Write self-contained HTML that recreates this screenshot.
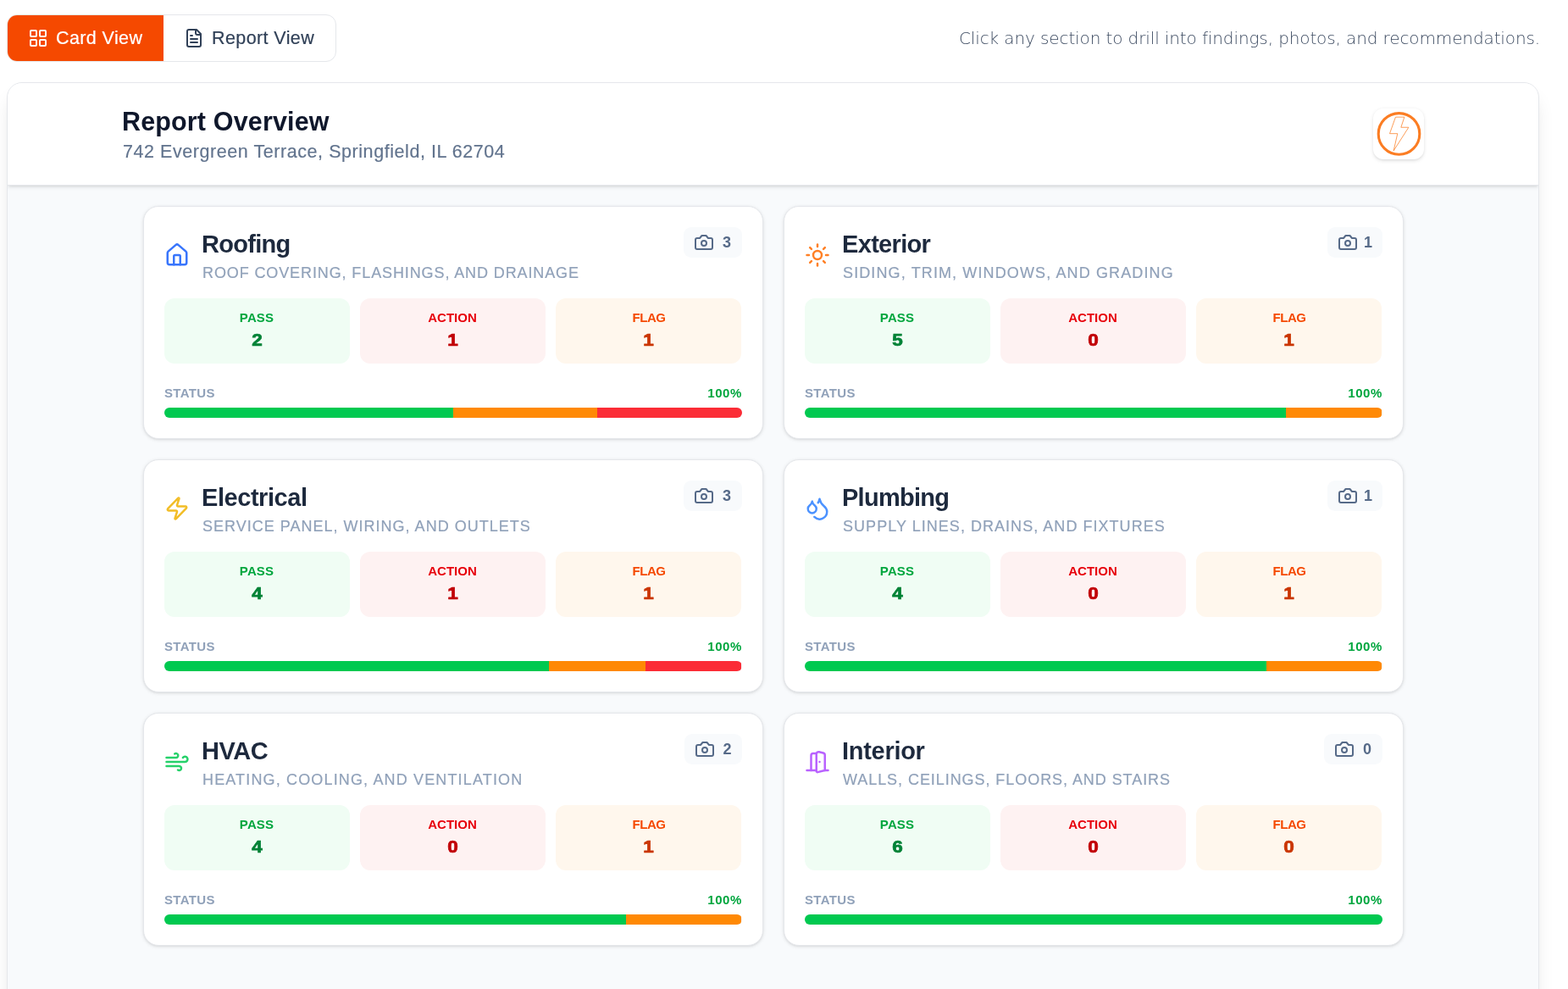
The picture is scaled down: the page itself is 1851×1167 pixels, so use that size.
<!DOCTYPE html>
<html lang="en">
<head>
<meta charset="utf-8">
<title>Report Overview</title>
<style>
*{box-sizing:border-box;margin:0;padding:0}
html,body{width:1851px;height:1167px;overflow:hidden;background:#fff}
body{position:relative;font-family:"Liberation Sans",Arial,sans-serif;color:#0f172b}
svg{display:block;flex:none}
.toggle{position:absolute;left:8px;top:17px;height:56px;width:389px;border:1px solid #e5e7eb;border-radius:12px;overflow:hidden;display:flex;background:#fff}
.tbtn{height:54px;display:flex;align-items:center;font-size:21.5px;font-weight:400;letter-spacing:.4px;-webkit-text-stroke:.2px currentColor}
.tbtn svg{margin-right:9px}
.tbtn span{position:relative;top:0}
.tbtn.on{width:184px;background:#f54900;color:#fff;padding-left:24px}
.tbtn.off{color:#314158;padding-left:24px}
.hint{position:absolute;left:1132px;top:30px;height:30px;line-height:30px;font-family:"DejaVu Sans","Liberation Sans",sans-serif;font-weight:200;font-size:20px;color:#3f4d63;white-space:nowrap;letter-spacing:-.114px}
.panel{position:absolute;left:8px;top:97px;width:1809px;height:1100px;border:1px solid #e5e7eb;border-radius:18px;background:#f8fafc;box-shadow:0 15px 22px -4px rgba(0,0,0,.10),0 6px 9px -6px rgba(0,0,0,.10);overflow:hidden}
.phead{position:absolute;left:0;top:0;width:100%;height:121px;background:#fff;border-bottom:1px solid #e5e7eb;box-shadow:0 1.5px 4.5px rgba(0,0,0,.10),0 1.5px 3px -1.5px rgba(0,0,0,.10)}
.phead h1{position:absolute;left:135px;top:24px;letter-spacing:.15px;font-size:30.5px;line-height:42px;font-weight:700;color:#0f172b;white-space:nowrap}
.phead .addr{position:absolute;left:136px;top:65.5px;letter-spacing:.56px;-webkit-text-stroke:.2px currentColor;font-size:21.5px;line-height:30px;color:#62748e;white-space:nowrap}
.logo{position:absolute;left:1612px;top:30px;width:60px;height:60px;border-radius:12px;background:#fff;box-shadow:0 1.5px 4.5px rgba(0,0,0,.10),0 1.5px 3px -1.5px rgba(0,0,0,.10)}
.card{position:absolute;width:732px;height:275px;background:#fff;border:1px solid #e5e7eb;border-radius:18px;box-shadow:0 1px 4px rgba(0,0,0,.10),0 1px 3px -1px rgba(0,0,0,.10)}
.card>*{position:absolute}
.card .ic{left:24px;top:42px}
.card h2{left:68px;top:23px;font-size:29px;line-height:42px;font-weight:700;color:#1d293d;white-space:nowrap}
.card .sub{left:69px;top:66px;font-size:18px;-webkit-text-stroke:.2px currentColor;line-height:25px;color:#90a1b9;white-space:nowrap;letter-spacing:1px}
.badge{right:24px;top:24px;height:36px;border-radius:9px;background:#f8fafc;font-size:18px;font-weight:700;color:#566a88}
.badge svg{position:absolute;left:12px;top:6px}
.badge span{position:absolute;top:6px;line-height:24px;white-space:nowrap}
.tile{top:108px;width:219px;height:77px;border-radius:12px;text-align:center}
.tile b{display:block;margin-top:10.5px;position:relative;left:-.5px;font-size:15px;line-height:23px;font-weight:700}
.tile em{display:block;font-style:normal;font-size:20.5px;line-height:30px;font-weight:700;margin-top:.5px;-webkit-text-stroke:.7px currentColor;transform:scaleX(1.1)}
.tp{left:24px;background:#f0fdf4}.tp b{color:#00a63e;letter-spacing:.13px}.tp em{color:#008236}
.ta{left:255px;background:#fef2f2}.ta b{color:#e7000b}.ta em{color:#c10007}
.tf{left:486px;width:219px;background:#fff7ed}.tf b{color:#f54900;letter-spacing:-.45px;left:.5px}.tf em{color:#ca3500}
.st{left:24px;top:208.5px;letter-spacing:.35px;font-size:15px;line-height:22px;font-weight:700;color:#90a1b9}
.pct{right:24px;top:208.5px;letter-spacing:.6px;font-size:15px;line-height:22px;font-weight:700;color:#00a63e}
.bar{left:24px;top:237px;width:682px;height:12px;border-radius:6px;background:#f1f5f9;overflow:hidden}
.bar i{position:absolute;top:0;height:12px;left:0}
.bar .g{background:#00c950}.bar .o{background:#ff8904}.bar .r{background:#fb2c36}
</style>
</head>
<body>
<div class="toggle"><div class="tbtn on"><svg class="" width="24" height="24" viewBox="0 0 24 24" fill="none" stroke="#fff" stroke-width="2" stroke-linecap="round" stroke-linejoin="round"><rect width="7" height="7" x="3" y="3" rx="1"/><rect width="7" height="7" x="14" y="3" rx="1"/><rect width="7" height="7" x="14" y="14" rx="1"/><rect width="7" height="7" x="3" y="14" rx="1"/></svg><span>Card View</span></div><div class="tbtn off"><svg class="" width="24" height="24" viewBox="0 0 24 24" fill="none" stroke="#314158" stroke-width="2" stroke-linecap="round" stroke-linejoin="round"><path d="M15 2H6a2 2 0 0 0-2 2v16a2 2 0 0 0 2 2h12a2 2 0 0 0 2-2V7Z"/><path d="M14 2v4a2 2 0 0 0 2 2h4"/><path d="M10 9H8"/><path d="M16 13H8"/><path d="M16 17H8"/></svg><span>Report View</span></div></div>
<div class="hint">Click any section to drill into findings, photos, and recommendations.</div>
<div class="panel">
<div class="phead">
<h1>Report Overview</h1>
<p class="addr">742 Evergreen Terrace, Springfield, IL 62704</p>
<div class="logo"><svg width="60" height="60" viewBox="0 0 60 60" fill="none" stroke="#fb7d23"><circle cx="30.5" cy="29.9" r="24.3" stroke-width="3.1"/><path d="M26.45 10.15H36.87L32.85 22.26H41.88L24.14 49.86L28.77 29.66H19.51Z" stroke-width="0.75" stroke-linejoin="miter"/></svg></div>
</div>
<div class="card" id="c1" style="left:160px;top:145px"><svg class="ic" width="30" height="30" viewBox="0 0 24 24" fill="none" stroke="#3875fc" stroke-width="2" stroke-linecap="round" stroke-linejoin="round"><path d="M15 21v-8a1 1 0 0 0-1-1h-4a1 1 0 0 0-1 1v8"/><path d="M3 10a2 2 0 0 1 .709-1.528l7-5.999a2 2 0 0 1 2.582 0l7 5.999A2 2 0 0 1 21 10v9a2 2 0 0 1-2 2H5a2 2 0 0 1-2-2z"/></svg><h2 style="letter-spacing:-0.71px">Roofing</h2><div class="sub" style="letter-spacing:0.89px">ROOF COVERING, FLASHINGS, AND DRAINAGE</div><div class="badge" style="width:69px"><svg class="" width="24" height="24" viewBox="0 0 24 24" fill="none" stroke="#566a88" stroke-width="2" stroke-linecap="round" stroke-linejoin="round"><path d="M14.5 4h-5L7 7H4a2 2 0 0 0-2 2v9a2 2 0 0 0 2 2h16a2 2 0 0 0 2-2V9a2 2 0 0 0-2-2h-3l-2.5-3z"/><circle cx="12" cy="13" r="3"/></svg><span style="right:13px">3</span></div><div class="tile tp"><b>PASS</b><em>2</em></div><div class="tile ta"><b>ACTION</b><em>1</em></div><div class="tile tf"><b>FLAG</b><em>1</em></div><div class="st">STATUS</div><div class="pct">100%</div><div class="bar"><i class="g" style="width:341px"></i><i class="o" style="left:341px;width:170px"></i><i class="r" style="left:511px;width:171px"></i></div></div>
<div class="card" id="c2" style="left:916px;top:145px"><svg class="ic" width="30" height="30" viewBox="0 0 24 24" fill="none" stroke="#ff8026" stroke-width="2" stroke-linecap="round" stroke-linejoin="round"><circle cx="12" cy="12" r="4"/><path d="M12 2v2"/><path d="M12 20v2"/><path d="m4.93 4.93 1.41 1.41"/><path d="m17.66 17.66 1.41 1.41"/><path d="M2 12h2"/><path d="M20 12h2"/><path d="m6.34 17.66-1.41 1.41"/><path d="m19.07 4.93-1.41 1.41"/></svg><h2 style="letter-spacing:-0.67px">Exterior</h2><div class="sub" style="letter-spacing:1.12px">SIDING, TRIM, WINDOWS, AND GRADING</div><div class="badge" style="width:65px"><svg class="" width="24" height="24" viewBox="0 0 24 24" fill="none" stroke="#566a88" stroke-width="2" stroke-linecap="round" stroke-linejoin="round"><path d="M14.5 4h-5L7 7H4a2 2 0 0 0-2 2v9a2 2 0 0 0 2 2h16a2 2 0 0 0 2-2V9a2 2 0 0 0-2-2h-3l-2.5-3z"/><circle cx="12" cy="13" r="3"/></svg><span style="right:12px">1</span></div><div class="tile tp"><b>PASS</b><em>5</em></div><div class="tile ta"><b>ACTION</b><em>0</em></div><div class="tile tf"><b>FLAG</b><em>1</em></div><div class="st">STATUS</div><div class="pct">100%</div><div class="bar"><i class="g" style="width:568px"></i><i class="o" style="left:568px;width:113px"></i></div></div>
<div class="card" id="c3" style="left:160px;top:444px"><svg class="ic" width="30" height="30" viewBox="0 0 24 24" fill="none" stroke="#f2bd26" stroke-width="2" stroke-linecap="round" stroke-linejoin="round"><path d="M4 14a1 1 0 0 1-.78-1.63l9.9-10.2a.5.5 0 0 1 .86.46l-1.92 6.02A1 1 0 0 0 13 10h7a1 1 0 0 1 .78 1.63l-9.9 10.2a.5.5 0 0 1-.86-.46l1.92-6.02A1 1 0 0 0 11 14z"/></svg><h2 style="letter-spacing:-0.44px">Electrical</h2><div class="sub" style="letter-spacing:1.01px">SERVICE PANEL, WIRING, AND OUTLETS</div><div class="badge" style="width:69px"><svg class="" width="24" height="24" viewBox="0 0 24 24" fill="none" stroke="#566a88" stroke-width="2" stroke-linecap="round" stroke-linejoin="round"><path d="M14.5 4h-5L7 7H4a2 2 0 0 0-2 2v9a2 2 0 0 0 2 2h16a2 2 0 0 0 2-2V9a2 2 0 0 0-2-2h-3l-2.5-3z"/><circle cx="12" cy="13" r="3"/></svg><span style="right:13px">3</span></div><div class="tile tp"><b>PASS</b><em>4</em></div><div class="tile ta"><b>ACTION</b><em>1</em></div><div class="tile tf"><b>FLAG</b><em>1</em></div><div class="st">STATUS</div><div class="pct">100%</div><div class="bar"><i class="g" style="width:454px"></i><i class="o" style="left:454px;width:114px"></i><i class="r" style="left:568px;width:113px"></i></div></div>
<div class="card" id="c4" style="left:916px;top:444px"><svg class="ic" width="30" height="30" viewBox="0 0 24 24" fill="none" stroke="#4b92ff" stroke-width="2" stroke-linecap="round" stroke-linejoin="round"><path d="M7 16.3c2.2 0 4-1.83 4-4.05 0-1.16-.57-2.26-1.71-3.19S7.29 6.75 7 5.3c-.29 1.45-1.14 2.84-2.29 3.76S3 11.1 3 12.25c0 2.22 1.8 4.05 4 4.05z"/><path d="M12.56 6.6A10.97 10.97 0 0 0 14 3.02c.5 2.5 2 4.9 4 6.5s3 3.5 3 5.5a6.98 6.98 0 0 1-11.91 4.97"/></svg><h2 style="letter-spacing:-0.72px">Plumbing</h2><div class="sub" style="letter-spacing:1.04px">SUPPLY LINES, DRAINS, AND FIXTURES</div><div class="badge" style="width:65px"><svg class="" width="24" height="24" viewBox="0 0 24 24" fill="none" stroke="#566a88" stroke-width="2" stroke-linecap="round" stroke-linejoin="round"><path d="M14.5 4h-5L7 7H4a2 2 0 0 0-2 2v9a2 2 0 0 0 2 2h16a2 2 0 0 0 2-2V9a2 2 0 0 0-2-2h-3l-2.5-3z"/><circle cx="12" cy="13" r="3"/></svg><span style="right:12px">1</span></div><div class="tile tp"><b>PASS</b><em>4</em></div><div class="tile ta"><b>ACTION</b><em>0</em></div><div class="tile tf"><b>FLAG</b><em>1</em></div><div class="st">STATUS</div><div class="pct">100%</div><div class="bar"><i class="g" style="width:545px"></i><i class="o" style="left:545px;width:136px"></i></div></div>
<div class="card" id="c5" style="left:160px;top:743px"><svg class="ic" width="30" height="30" viewBox="0 0 24 24" fill="none" stroke="#26d16a" stroke-width="2" stroke-linecap="round" stroke-linejoin="round"><path d="M12.8 19.6A2 2 0 1 0 14 16H2"/><path d="M17.5 8a2.5 2.5 0 1 1 2 4H2"/><path d="M9.8 4.4A2 2 0 1 1 11 8H2"/></svg><h2 style="letter-spacing:-0.48px">HVAC</h2><div class="sub" style="letter-spacing:1.15px">HEATING, COOLING, AND VENTILATION</div><div class="badge" style="width:68px"><svg class="" width="24" height="24" viewBox="0 0 24 24" fill="none" stroke="#566a88" stroke-width="2" stroke-linecap="round" stroke-linejoin="round"><path d="M14.5 4h-5L7 7H4a2 2 0 0 0-2 2v9a2 2 0 0 0 2 2h16a2 2 0 0 0 2-2V9a2 2 0 0 0-2-2h-3l-2.5-3z"/><circle cx="12" cy="13" r="3"/></svg><span style="right:12.5px">2</span></div><div class="tile tp"><b>PASS</b><em>4</em></div><div class="tile ta"><b>ACTION</b><em>0</em></div><div class="tile tf"><b>FLAG</b><em>1</em></div><div class="st">STATUS</div><div class="pct">100%</div><div class="bar"><i class="g" style="width:545px"></i><i class="o" style="left:545px;width:136px"></i></div></div>
<div class="card" id="c6" style="left:916px;top:743px"><svg class="ic" width="30" height="30" viewBox="0 0 24 24" fill="none" stroke="#b962ff" stroke-width="2" stroke-linecap="round" stroke-linejoin="round"><path d="M11 20H2"/><path d="M11 4.562v16.157a1 1 0 0 0 1.242.97L19 20V5.562a2 2 0 0 0-1.515-1.94l-4-1A2 2 0 0 0 11 4.561z"/><path d="M11 4H8a2 2 0 0 0-2 2v14"/><path d="M14 12h.01"/><path d="M22 20h-3"/></svg><h2 style="letter-spacing:-0.29px">Interior</h2><div class="sub" style="letter-spacing:0.94px">WALLS, CEILINGS, FLOORS, AND STAIRS</div><div class="badge" style="width:69px"><svg class="" width="24" height="24" viewBox="0 0 24 24" fill="none" stroke="#566a88" stroke-width="2" stroke-linecap="round" stroke-linejoin="round"><path d="M14.5 4h-5L7 7H4a2 2 0 0 0-2 2v9a2 2 0 0 0 2 2h16a2 2 0 0 0 2-2V9a2 2 0 0 0-2-2h-3l-2.5-3z"/><circle cx="12" cy="13" r="3"/></svg><span style="right:13px">0</span></div><div class="tile tp"><b>PASS</b><em>6</em></div><div class="tile ta"><b>ACTION</b><em>0</em></div><div class="tile tf"><b>FLAG</b><em>0</em></div><div class="st">STATUS</div><div class="pct">100%</div><div class="bar"><i class="g" style="width:682px"></i></div></div>
</div>
</body>
</html>
